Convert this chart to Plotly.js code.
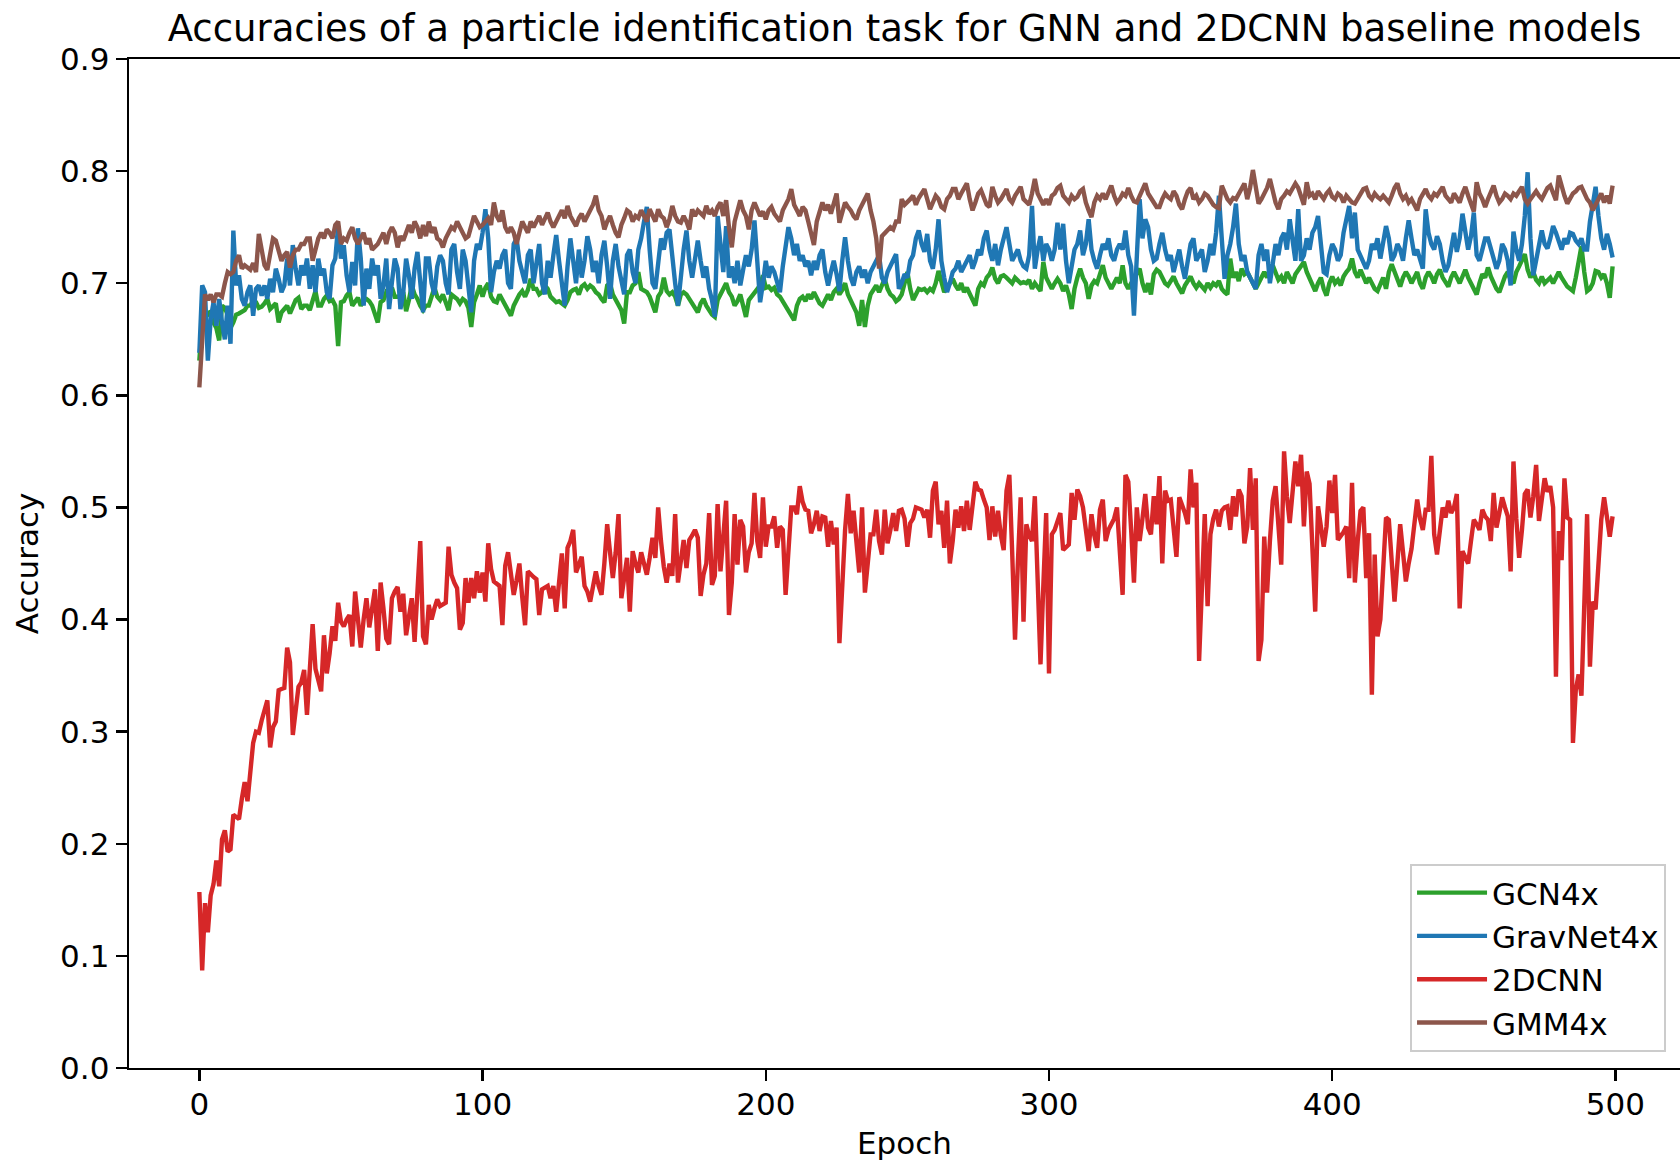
<!DOCTYPE html>
<html>
<head>
<meta charset="utf-8">
<script src="https://cdn.plot.ly/plotly-3.0.1.min.js"></script>
<style>html,body{margin:0;padding:0;background:#fff;}#chart{width:1680px;height:1164px;}</style>
</head>
<body>
<div id="chart"></div>
<script>
const seriesNames = ["GCN4x", "GravNet4x", "2DCNN", "GMM4x"];
const seriesColors = ["#2ca02c", "#1f77b4", "#d62728", "#8c564b"];
const xTicks = [0, 100, 200, 300, 400, 500];

const gcn4x = [
0.631,0.668,0.675,0.672,0.675,0.665,0.66,0.649,0.68,0.678,
0.672,0.66,0.665,0.672,0.673,0.675,0.676,0.68,0.68,0.685,
0.683,0.678,0.679,0.682,0.686,0.677,0.68,0.682,0.665,0.674,
0.677,0.68,0.673,0.68,0.685,0.687,0.677,0.68,0.68,0.676,
0.685,0.693,0.68,0.68,0.686,0.689,0.684,0.685,0.68,0.644,
0.683,0.684,0.689,0.692,0.68,0.683,0.687,0.68,0.685,0.686,
0.684,0.68,0.672,0.665,0.683,0.685,0.692,0.69,0.696,0.688,
0.688,0.689,0.692,0.675,0.685,0.698,0.69,0.686,0.68,0.676,
0.68,0.68,0.688,0.696,0.688,0.685,0.69,0.684,0.676,0.69,
0.688,0.686,0.682,0.686,0.684,0.678,0.661,0.683,0.69,0.698,
0.688,0.696,0.7,0.688,0.684,0.683,0.69,0.685,0.68,0.676,
0.671,0.68,0.686,0.69,0.693,0.688,0.694,0.704,0.695,0.695,
0.69,0.692,0.698,0.695,0.688,0.685,0.683,0.684,0.682,0.68,
0.685,0.692,0.694,0.695,0.69,0.697,0.699,0.695,0.698,0.696,
0.692,0.69,0.686,0.683,0.698,0.7,0.69,0.685,0.68,0.676,
0.664,0.692,0.692,0.698,0.7,0.71,0.695,0.694,0.692,0.688,
0.68,0.674,0.688,0.692,0.705,0.693,0.69,0.692,0.688,0.68,
0.69,0.692,0.69,0.685,0.682,0.678,0.674,0.682,0.686,0.68,
0.676,0.672,0.67,0.685,0.69,0.695,0.7,0.692,0.688,0.68,
0.684,0.69,0.68,0.67,0.685,0.688,0.692,0.695,0.698,0.707,
0.696,0.697,0.694,0.696,0.69,0.688,0.684,0.68,0.676,0.672,
0.667,0.68,0.686,0.688,0.684,0.69,0.686,0.692,0.687,0.682,
0.68,0.686,0.69,0.685,0.692,0.695,0.69,0.694,0.7,0.69,
0.685,0.68,0.674,0.662,0.685,0.661,0.68,0.69,0.695,0.698,
0.692,0.698,0.704,0.695,0.69,0.688,0.684,0.686,0.69,0.7,
0.71,0.695,0.685,0.69,0.695,0.694,0.695,0.692,0.695,0.693,
0.7,0.711,0.7,0.692,0.696,0.7,0.704,0.698,0.694,0.7,
0.692,0.696,0.69,0.685,0.68,0.695,0.7,0.698,0.705,0.708,
0.714,0.704,0.7,0.706,0.707,0.705,0.703,0.7,0.705,0.702,
0.7,0.701,0.7,0.703,0.695,0.7,0.697,0.693,0.719,0.705,
0.7,0.695,0.7,0.704,0.7,0.693,0.698,0.69,0.677,0.695,
0.705,0.713,0.705,0.7,0.686,0.698,0.702,0.7,0.708,0.716,
0.705,0.7,0.695,0.7,0.705,0.7,0.716,0.7,0.695,0.7,
0.705,0.708,0.713,0.7,0.692,0.7,0.69,0.708,0.712,0.71,
0.705,0.7,0.698,0.703,0.706,0.7,0.695,0.691,0.698,0.703,
0.706,0.7,0.696,0.7,0.697,0.694,0.7,0.696,0.7,0.698,
0.702,0.695,0.692,0.69,0.722,0.705,0.71,0.702,0.713,0.708,
0.71,0.705,0.7,0.695,0.7,0.706,0.71,0.705,0.712,0.716,
0.71,0.703,0.706,0.7,0.71,0.705,0.7,0.708,0.712,0.716,
0.719,0.71,0.705,0.7,0.693,0.7,0.705,0.695,0.689,0.7,
0.706,0.7,0.703,0.698,0.706,0.71,0.713,0.722,0.71,0.705,
0.712,0.706,0.7,0.705,0.7,0.695,0.693,0.7,0.705,0.695,
0.71,0.717,0.71,0.705,0.697,0.705,0.71,0.706,0.7,0.705,
0.71,0.7,0.695,0.705,0.71,0.706,0.7,0.708,0.712,0.705,
0.7,0.697,0.705,0.71,0.705,0.7,0.706,0.712,0.705,0.7,
0.695,0.69,0.7,0.708,0.705,0.714,0.706,0.7,0.695,0.692,
0.7,0.706,0.71,0.703,0.7,0.71,0.715,0.72,0.726,0.712,
0.705,0.71,0.703,0.7,0.706,0.7,0.703,0.705,0.7,0.706,
0.71,0.705,0.7,0.697,0.695,0.693,0.705,0.72,0.733,0.71,
0.693,0.695,0.7,0.711,0.71,0.705,0.708,0.7,0.687,0.715
];

const gravnet4x = [
0.638,0.698,0.692,0.631,0.668,0.683,0.662,0.686,0.665,0.65,
0.68,0.646,0.747,0.698,0.707,0.686,0.68,0.692,0.698,0.671,
0.695,0.698,0.689,0.698,0.686,0.704,0.692,0.713,0.704,0.692,
0.698,0.722,0.698,0.734,0.713,0.698,0.716,0.707,0.722,0.695,
0.716,0.692,0.722,0.707,0.713,0.692,0.686,0.716,0.722,0.751,
0.722,0.734,0.707,0.692,0.719,0.698,0.749,0.722,0.68,0.713,
0.695,0.722,0.707,0.716,0.686,0.698,0.722,0.677,0.701,0.722,
0.713,0.677,0.692,0.722,0.707,0.686,0.713,0.728,0.701,0.674,
0.722,0.722,0.70,0.69,0.715,0.725,0.72,0.70,0.69,0.73,
0.735,0.71,0.695,0.73,0.72,0.70,0.674,0.72,0.735,0.73,
0.745,0.766,0.74,0.692,0.71,0.72,0.713,0.725,0.73,0.70,
0.695,0.735,0.74,0.72,0.71,0.70,0.725,0.73,0.70,0.715,
0.735,0.70,0.69,0.72,0.705,0.725,0.743,0.72,0.70,0.68,
0.715,0.74,0.72,0.70,0.73,0.705,0.72,0.742,0.73,0.71,
0.72,0.70,0.725,0.738,0.715,0.686,0.72,0.735,0.715,0.70,
0.69,0.725,0.73,0.71,0.70,0.73,0.74,0.755,0.768,0.73,
0.70,0.695,0.72,0.74,0.73,0.745,0.748,0.72,0.70,0.68,
0.71,0.73,0.747,0.72,0.705,0.725,0.738,0.72,0.705,0.715,
0.695,0.685,0.67,0.76,0.73,0.71,0.751,0.705,0.715,0.70,
0.72,0.698,0.712,0.725,0.715,0.73,0.756,0.72,0.683,0.70,
0.72,0.705,0.715,0.71,0.70,0.692,0.715,0.735,0.75,0.74,
0.725,0.735,0.72,0.725,0.715,0.72,0.707,0.72,0.712,0.725,
0.73,0.71,0.698,0.71,0.72,0.708,0.693,0.72,0.741,0.72,
0.705,0.698,0.71,0.715,0.705,0.712,0.70,0.71,0.715,0.718,
0.725,0.705,0.70,0.71,0.715,0.72,0.726,0.695,0.70,0.708,
0.705,0.72,0.725,0.74,0.747,0.735,0.728,0.744,0.72,0.713,
0.73,0.757,0.72,0.705,0.692,0.70,0.71,0.713,0.72,0.71,
0.715,0.72,0.725,0.713,0.72,0.73,0.725,0.74,0.747,0.73,
0.72,0.735,0.716,0.73,0.74,0.75,0.735,0.72,0.725,0.73,
0.72,0.715,0.713,0.725,0.769,0.713,0.73,0.742,0.72,0.735,
0.73,0.72,0.73,0.754,0.73,0.753,0.72,0.70,0.715,0.73,
0.735,0.747,0.725,0.735,0.757,0.73,0.72,0.713,0.725,0.735,
0.73,0.74,0.725,0.72,0.73,0.735,0.73,0.747,0.725,0.715,
0.671,0.73,0.775,0.74,0.757,0.75,0.73,0.72,0.722,0.735,
0.745,0.73,0.72,0.725,0.71,0.72,0.73,0.715,0.704,0.72,
0.735,0.74,0.72,0.725,0.73,0.71,0.72,0.735,0.725,0.745,
0.778,0.74,0.704,0.725,0.735,0.75,0.771,0.735,0.72,0.725,
0.71,0.705,0.70,0.695,0.725,0.735,0.72,0.73,0.70,0.72,
0.735,0.725,0.74,0.745,0.73,0.757,0.74,0.72,0.766,0.72,
0.725,0.74,0.73,0.745,0.75,0.76,0.735,0.71,0.708,0.725,
0.735,0.73,0.72,0.725,0.745,0.755,0.769,0.74,0.763,0.73,
0.725,0.72,0.713,0.72,0.735,0.73,0.74,0.722,0.735,0.751,
0.74,0.72,0.725,0.735,0.73,0.72,0.74,0.756,0.74,0.725,
0.73,0.72,0.713,0.766,0.745,0.735,0.73,0.742,0.735,0.72,
0.71,0.716,0.73,0.745,0.728,0.74,0.762,0.745,0.73,0.742,
0.763,0.725,0.72,0.73,0.74,0.74,0.73,0.72,0.713,0.72,
0.735,0.73,0.72,0.698,0.746,0.73,0.72,0.735,0.76,0.799,
0.74,0.707,0.72,0.735,0.747,0.735,0.731,0.74,0.751,0.745,
0.737,0.73,0.74,0.735,0.745,0.744,0.738,0.735,0.74,0.73,
0.73,0.755,0.77,0.786,0.76,0.74,0.73,0.744,0.735,0.723
];

const cnn2d = [
0.157,0.087,0.147,0.121,0.154,0.164,0.185,0.162,0.204,0.212,
0.193,0.195,0.226,0.224,0.222,0.24,0.255,0.238,0.27,0.29,
0.30,0.299,0.31,0.32,0.328,0.286,0.304,0.309,0.337,0.338,
0.339,0.375,0.362,0.297,0.32,0.34,0.344,0.355,0.315,0.36,
0.396,0.356,0.345,0.336,0.386,0.352,0.37,0.394,0.381,0.415,
0.398,0.394,0.40,0.404,0.376,0.425,0.40,0.375,0.40,0.419,
0.393,0.41,0.427,0.372,0.433,0.41,0.383,0.378,0.419,0.425,
0.429,0.407,0.423,0.386,0.40,0.419,0.38,0.42,0.47,0.385,
0.378,0.413,0.40,0.41,0.418,0.412,0.413,0.415,0.465,0.44,
0.433,0.428,0.391,0.397,0.437,0.415,0.437,0.419,0.443,0.424,
0.442,0.416,0.468,0.445,0.434,0.432,0.43,0.395,0.448,0.46,
0.44,0.422,0.435,0.45,0.42,0.395,0.443,0.44,0.438,0.436,
0.404,0.427,0.428,0.43,0.419,0.43,0.407,0.43,0.459,0.41,
0.464,0.47,0.48,0.442,0.45,0.456,0.43,0.425,0.416,0.43,
0.443,0.43,0.422,0.45,0.485,0.46,0.437,0.46,0.494,0.419,
0.44,0.455,0.407,0.461,0.45,0.442,0.46,0.45,0.44,0.455,
0.473,0.455,0.50,0.47,0.447,0.433,0.45,0.439,0.494,0.433,
0.45,0.471,0.446,0.471,0.475,0.48,0.473,0.421,0.44,0.45,
0.495,0.431,0.439,0.503,0.443,0.47,0.506,0.404,0.433,0.494,
0.449,0.489,0.483,0.442,0.46,0.468,0.513,0.47,0.455,0.509,
0.465,0.483,0.483,0.492,0.464,0.483,0.48,0.422,0.46,0.50,
0.50,0.494,0.519,0.505,0.498,0.497,0.477,0.485,0.497,0.479,
0.492,0.491,0.465,0.488,0.467,0.482,0.379,0.44,0.48,0.512,
0.477,0.497,0.465,0.442,0.50,0.424,0.45,0.476,0.476,0.498,
0.47,0.458,0.498,0.468,0.48,0.495,0.479,0.497,0.498,0.49,
0.465,0.486,0.49,0.50,0.499,0.498,0.491,0.498,0.473,0.515,
0.523,0.485,0.497,0.464,0.506,0.45,0.47,0.498,0.482,0.501,
0.479,0.506,0.48,0.50,0.523,0.516,0.515,0.507,0.50,0.471,
0.501,0.474,0.497,0.475,0.462,0.515,0.529,0.46,0.382,0.45,
0.509,0.398,0.485,0.475,0.47,0.51,0.44,0.36,0.43,0.495,
0.352,0.476,0.48,0.488,0.495,0.462,0.465,0.467,0.513,0.489,
0.516,0.51,0.50,0.48,0.461,0.494,0.475,0.464,0.498,0.507,
0.47,0.48,0.486,0.49,0.50,0.46,0.422,0.529,0.523,0.48,
0.433,0.50,0.47,0.49,0.512,0.482,0.476,0.51,0.485,0.528,
0.45,0.515,0.506,0.507,0.48,0.456,0.509,0.503,0.495,0.485,
0.534,0.50,0.522,0.363,0.44,0.494,0.412,0.476,0.49,0.498,
0.483,0.497,0.50,0.501,0.48,0.51,0.492,0.516,0.51,0.468,
0.483,0.535,0.48,0.526,0.363,0.382,0.474,0.424,0.47,0.506,
0.519,0.48,0.449,0.55,0.51,0.486,0.52,0.541,0.519,0.547,
0.483,0.532,0.521,0.46,0.407,0.501,0.48,0.465,0.483,0.524,
0.495,0.529,0.471,0.474,0.478,0.483,0.437,0.522,0.433,0.47,
0.497,0.50,0.437,0.477,0.333,0.458,0.385,0.40,0.45,0.491,
0.489,0.45,0.416,0.45,0.485,0.46,0.434,0.45,0.463,0.485,
0.507,0.49,0.48,0.498,0.498,0.546,0.476,0.458,0.48,0.50,
0.491,0.506,0.495,0.50,0.512,0.41,0.461,0.455,0.45,0.47,
0.489,0.485,0.48,0.498,0.492,0.489,0.47,0.513,0.482,0.495,
0.509,0.50,0.492,0.443,0.541,0.49,0.455,0.48,0.512,0.516,
0.491,0.51,0.538,0.488,0.51,0.526,0.514,0.519,0.50,0.349,
0.479,0.453,0.526,0.491,0.489,0.29,0.337,0.351,0.332,0.42,
0.494,0.358,0.416,0.409,0.45,0.489,0.509,0.49,0.474,0.492
];

const gmm4x = [
0.607,0.65,0.69,0.685,0.69,0.683,0.69,0.69,0.688,0.70,
0.71,0.708,0.71,0.72,0.725,0.713,0.716,0.714,0.712,0.718,
0.71,0.744,0.73,0.716,0.712,0.725,0.74,0.738,0.73,0.72,
0.725,0.728,0.714,0.725,0.73,0.73,0.735,0.735,0.74,0.74,
0.72,0.73,0.74,0.745,0.74,0.748,0.745,0.74,0.752,0.755,
0.735,0.74,0.738,0.745,0.75,0.74,0.735,0.74,0.745,0.735,
0.74,0.73,0.733,0.735,0.74,0.745,0.735,0.745,0.75,0.745,
0.732,0.742,0.738,0.745,0.752,0.745,0.755,0.75,0.74,0.752,
0.742,0.755,0.745,0.75,0.74,0.738,0.732,0.74,0.745,0.75,
0.748,0.755,0.75,0.745,0.74,0.742,0.75,0.76,0.755,0.75,
0.752,0.755,0.758,0.752,0.772,0.76,0.755,0.765,0.75,0.745,
0.75,0.745,0.735,0.745,0.755,0.75,0.745,0.755,0.75,0.755,
0.76,0.752,0.758,0.763,0.755,0.75,0.755,0.76,0.765,0.758,
0.769,0.76,0.755,0.751,0.758,0.762,0.755,0.76,0.765,0.77,
0.778,0.765,0.76,0.748,0.755,0.76,0.752,0.745,0.741,0.752,
0.758,0.765,0.763,0.755,0.76,0.758,0.765,0.76,0.755,0.766,
0.76,0.755,0.766,0.76,0.758,0.75,0.757,0.769,0.76,0.755,
0.754,0.76,0.755,0.748,0.766,0.76,0.765,0.762,0.76,0.769,
0.762,0.765,0.76,0.768,0.772,0.76,0.774,0.75,0.732,0.755,
0.765,0.774,0.765,0.76,0.748,0.765,0.772,0.765,0.76,0.764,
0.757,0.765,0.768,0.762,0.758,0.755,0.765,0.77,0.775,0.784,
0.77,0.765,0.76,0.768,0.765,0.755,0.745,0.734,0.755,0.765,
0.772,0.765,0.77,0.762,0.772,0.78,0.754,0.765,0.772,0.768,
0.765,0.76,0.757,0.765,0.77,0.775,0.78,0.765,0.755,0.74,
0.713,0.742,0.745,0.748,0.75,0.748,0.755,0.755,0.775,0.77,
0.772,0.775,0.778,0.77,0.776,0.78,0.784,0.775,0.766,0.772,
0.778,0.775,0.768,0.766,0.775,0.778,0.784,0.784,0.775,0.78,
0.785,0.789,0.775,0.765,0.772,0.78,0.783,0.775,0.77,0.768,
0.786,0.778,0.772,0.775,0.78,0.784,0.775,0.772,0.778,0.782,
0.786,0.775,0.772,0.77,0.78,0.793,0.78,0.775,0.77,0.775,
0.77,0.778,0.78,0.785,0.787,0.778,0.775,0.772,0.778,0.775,
0.777,0.782,0.784,0.772,0.765,0.759,0.772,0.778,0.775,0.78,
0.775,0.782,0.787,0.778,0.772,0.775,0.78,0.778,0.785,0.778,
0.773,0.772,0.778,0.782,0.789,0.78,0.775,0.772,0.768,0.768,
0.775,0.78,0.777,0.775,0.782,0.778,0.77,0.766,0.775,0.782,
0.785,0.775,0.778,0.772,0.775,0.78,0.778,0.773,0.77,0.768,
0.767,0.787,0.78,0.775,0.772,0.776,0.775,0.78,0.785,0.789,
0.775,0.785,0.801,0.785,0.771,0.775,0.78,0.785,0.793,0.78,
0.772,0.766,0.775,0.778,0.782,0.78,0.785,0.789,0.785,0.778,
0.77,0.79,0.778,0.78,0.775,0.782,0.778,0.775,0.78,0.783,
0.777,0.775,0.78,0.778,0.772,0.778,0.775,0.772,0.771,0.775,
0.78,0.784,0.785,0.778,0.775,0.78,0.777,0.775,0.778,0.775,
0.772,0.778,0.785,0.789,0.78,0.775,0.778,0.772,0.775,0.77,
0.765,0.775,0.78,0.784,0.778,0.775,0.78,0.778,0.782,0.786,
0.778,0.775,0.772,0.78,0.776,0.772,0.78,0.786,0.778,0.77,
0.764,0.79,0.78,0.775,0.768,0.775,0.78,0.787,0.778,0.772,
0.775,0.78,0.778,0.775,0.78,0.778,0.782,0.786,0.775,0.771,
0.775,0.778,0.782,0.778,0.775,0.78,0.785,0.787,0.78,0.774,
0.796,0.785,0.778,0.771,0.775,0.78,0.782,0.785,0.786,0.78,
0.775,0.772,0.765,0.77,0.775,0.78,0.772,0.778,0.771,0.787
];

const allSeries = [gcn4x, gravnet4x, cnn2d, gmm4x];
const epochs = gcn4x.map((_, i) => i);

const traces = allSeries.map((ys, k) => ({
  type: 'scatter',
  mode: 'lines',
  name: seriesNames[k],
  x: epochs,
  y: ys,
  line: {color: seriesColors[k], width: 4.4},
  legendgroup: 'g' + k
}));

const layout = {
  width: 1680,
  height: 1164,
  margin: {l: 129, r: 0, t: 59, b: 96, pad: 0},
  paper_bgcolor: '#ffffff',
  plot_bgcolor: '#ffffff',
  font: {family: 'DejaVu Sans, sans-serif', size: 31, color: '#000000'},
  title: {
    text: 'Accuracies of a particle identification task for GNN and 2DCNN baseline models',
    font: {size: 37, color: '#000000'},
    x: 0.5, xref: 'paper', xanchor: 'center',
    y: 1 - 28/1164, yref: 'container', yanchor: 'middle'
  },
  xaxis: {
    range: [-24.84, 522.8],
    tickvals: xTicks,
    ticktext: xTicks.map(String),
    ticks: 'outside', ticklen: 11, tickwidth: 2.4, tickcolor: '#000',
    ticklabelstandoff: -4,
    showline: true, linewidth: 2.4, linecolor: '#000', mirror: true,
    showgrid: false, zeroline: false,
    tickfont: {size: 31},
    title: {text: 'Epoch', font: {size: 31}, standoff: 12}
  },
  yaxis: {
    range: [0, 0.9],
    tick0: 0, dtick: 0.1, tickformat: '.1f',
    ticks: 'outside', ticklen: 11, tickwidth: 2.4, tickcolor: '#000',
    showline: true, linewidth: 2.4, linecolor: '#000', mirror: false,
    showgrid: false, zeroline: false,
    tickfont: {size: 31},
    title: {text: 'Accuracy', font: {size: 31}, standoff: 12}
  },
  showlegend: true,
  legend: {
    x: 0.991, xanchor: 'right',
    y: 0.0159, yanchor: 'bottom',
    bgcolor: 'rgba(255,255,255,0.8)',
    bordercolor: '#cccccc', borderwidth: 2,
    font: {size: 31, color: '#000'},
    itemwidth: 70,
    tracegroupgap: 2,
    traceorder: 'normal'
  }
};

Plotly.newPlot('chart', traces, layout, {displayModeBar: false, staticPlot: true});
</script>
</body>
</html>
